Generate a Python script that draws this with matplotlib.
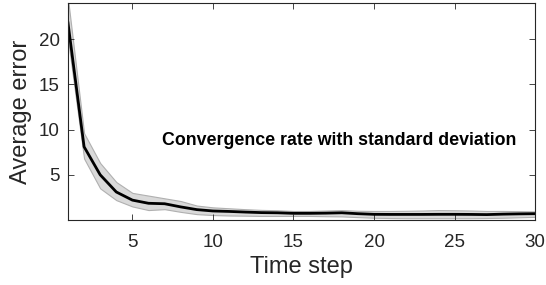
import numpy as np
import matplotlib.pyplot as plt

plt.rcParams['font.family'] = ['Liberation Sans', 'DejaVu Sans']

steps = np.arange(1, 31)
mean_err = [21.8, 8.1, 5.0, 3.1, 2.2, 1.85, 1.8, 1.45, 1.15, 1.0,
            0.95, 0.88, 0.82, 0.8, 0.74, 0.74, 0.76, 0.8, 0.7, 0.63,
            0.62, 0.62, 0.62, 0.63, 0.63, 0.62, 0.6, 0.65, 0.68, 0.7]
upper = [24.5, 9.6, 6.3, 4.2, 3.0, 2.7, 2.4, 2.1, 1.6, 1.4,
         1.3, 1.2, 1.12, 1.08, 1.0, 1.0, 1.05, 1.1, 1.02, 1.0,
         1.0, 1.02, 1.05, 1.1, 1.08, 1.05, 1.0, 1.0, 0.98, 0.95]
lower = [20.0, 6.8, 3.5, 2.2, 1.5, 1.1, 1.2, 0.9, 0.65, 0.55,
         0.5, 0.48, 0.45, 0.45, 0.45, 0.45, 0.42, 0.4, 0.32, 0.25,
         0.22, 0.2, 0.2, 0.2, 0.2, 0.2, 0.22, 0.25, 0.3, 0.35]

fig = plt.figure(figsize=(5.46, 2.85), dpi=100)
ax = fig.add_axes([0.1245, 0.228, 0.8555, 0.7615])

ax.fill_between(steps, lower, upper, facecolor='#d9d9d9', edgecolor='#b0b0b0', linewidth=0.8)
ax.plot(steps, mean_err, color='black', linewidth=2)

ax.set_xlim(1, 30)
ax.set_ylim(0, 24)
ax.set_xticks([5, 10, 15, 20, 25, 30])
ax.set_yticks([5, 10, 15, 20])
ax.tick_params(direction='in', top=True, right=True, labelsize=13.5,
               colors='#262626', length=4, width=0.6)
ax.tick_params(axis='x', pad=10)
ax.tick_params(axis='y', pad=6)
for s in ax.spines.values():
    s.set_color('#262626')
    s.set_linewidth(0.8)

ax.set_xlabel('Time step', fontsize=17, color='#262626', labelpad=4)
ax.set_ylabel('Average error', fontsize=17, color='#262626', labelpad=5)

ax.text(17.83, 8.78, 'Convergence rate with standard deviation', fontsize=12.8,
        fontweight='bold', ha='center', va='center', color='black')

fig.savefig('out.png', dpi=100)
